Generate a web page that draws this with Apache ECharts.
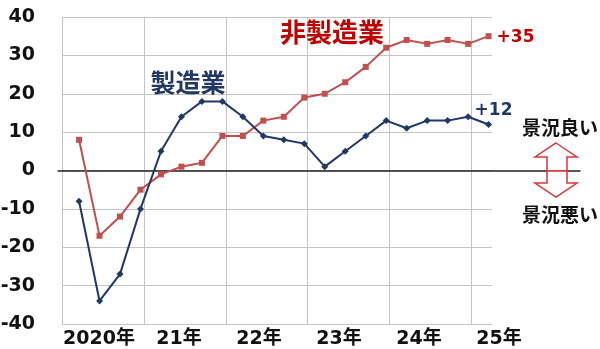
<!DOCTYPE html>
<html><head><meta charset="utf-8">
<script src="https://cdn.jsdelivr.net/npm/echarts@6/dist/echarts.min.js"></script>
<style>html,body{margin:0;padding:0;background:#fff}#c{width:600px;height:349px}</style>
</head><body><div id="c"></div>
<script>
// Quarterly survey months (Tankan, large enterprises)
const quarters = ['2020-03','2020-06','2020-09','2020-12','2021-03','2021-06','2021-09','2021-12',
  '2022-03','2022-06','2022-09','2022-12','2023-03','2023-06','2023-09','2023-12',
  '2024-03','2024-06','2024-09','2024-12','2025-03'];
const manufacturing    = [-8,-34,-27,-10, 5,14,18,18, 14, 9, 8, 7,  1, 5, 9,13, 11,13,13,14, 12];
const nonManufacturing = [ 8,-17,-12, -5,-1, 1, 2, 9,  9,13,14,19, 20,23,27,32, 34,33,34,33, 35];
const yearLabels = ['2020年','21年','22年','23年','24年','25年'];
const seriesNames = ['製造業','非製造業'];
const sideLabels = ['景況良い','景況悪い'];

const BLUE = '#1f3864', RED = '#c0504d', DARKRED = '#c00000', ARROW = '#d9343a';
const NUM_FONT = "'DejaVu Sans','Noto Sans CJK JP',sans-serif";
const CJK_FONT = "'Noto Sans CJK JP','DejaVu Sans',sans-serif";

function monthPos(q){ const [y,m] = q.split('-').map(Number); return (y-2020)*12 + m - 0.5; }
const blueData = quarters.map((q,i)=>[monthPos(q), manufacturing[i]]);
const redData  = quarters.map((q,i)=>[monthPos(q), nonManufacturing[i]]);

const chart = echarts.init(document.getElementById('c'), null, {renderer:'canvas'});
const gridTop = 17, gridH = 307;
chart.setOption({
  animation:false,
  backgroundColor:'#fff',
  grid:[
    {left:62, top:gridTop, width:430, height:gridH, containLabel:false, outerBoundsMode:'none'},
    {left:58, right:20, top:gridTop, height:gridH, containLabel:false, outerBoundsMode:'none'},
    {left:59, width:480, top:gridTop, height:gridH, containLabel:false, outerBoundsMode:'none'}
  ],
  xAxis:[
    {gridIndex:0, type:'value', min:0, max:63, interval:12,
      axisLine:{show:false}, axisTick:{show:false}, axisLabel:{show:false},
      splitLine:{show:true, showMinLine:true, showMaxLine:false, lineStyle:{color:'#c4c4c4', width:1}}},
    {gridIndex:1, type:'value', min:0, max:1, axisLine:{show:true, onZero:true, lineStyle:{color:'#222', width:1.5}},
      axisTick:{show:false}, axisLabel:{show:false}, splitLine:{show:false}, z:1},
    {gridIndex:2, type:'category', data:yearLabels, boundaryGap:true,
      axisLine:{show:false}, axisTick:{show:false}, splitLine:{show:false},
      axisLabel:{interval:0, margin:6, fontSize:19, fontWeight:'bold', color:'#111', fontFamily:NUM_FONT}}
  ],
  yAxis:[
    {gridIndex:0, type:'value', min:-40, max:40, interval:10,
      axisLine:{show:false}, axisTick:{show:false},
      axisLabel:{margin:27, fontSize:19, fontWeight:'bold', color:'#111', fontFamily:NUM_FONT},
      splitLine:{show:true, lineStyle:{color:'#c4c4c4', width:1}}},
    {gridIndex:1, type:'value', min:-40, max:40, show:false},
    {gridIndex:2, type:'value', min:-40, max:40, show:false}
  ],
  series:[
    {name:seriesNames[1], type:'line', xAxisIndex:0, yAxisIndex:0, data:redData, z:3,
      symbol:'rect', symbolSize:6, showAllSymbol:true,
      lineStyle:{color:RED, width:2}, itemStyle:{color:RED},
      endLabel:{show:true, formatter:p=>'+'+p.value[1], color:DARKRED, fontSize:17, fontWeight:'bold',
        fontFamily:NUM_FONT, distance:8, offset:[0,1]}},
    {name:seriesNames[0], type:'line', xAxisIndex:0, yAxisIndex:0, data:blueData, z:4,
      symbol:'diamond', symbolSize:7, showAllSymbol:true,
      lineStyle:{color:BLUE, width:2}, itemStyle:{color:BLUE},
      endLabel:{show:true, formatter:p=>'+'+p.value[1], color:BLUE, fontSize:17, fontWeight:'bold',
        fontFamily:NUM_FONT, distance:0, offset:[-14,-14]}}
  ],
  graphic:[
    {type:'text', z:10, style:{text:seriesNames[0], x:188, y:82, textAlign:'center', textVerticalAlign:'middle',
      fill:BLUE, font:"bold 25px "+CJK_FONT}},
    {type:'text', z:10, style:{text:seriesNames[1], x:332, y:32, textAlign:'center', textVerticalAlign:'middle',
      fill:DARKRED, font:"bold 26px "+CJK_FONT}},
    {type:'text', z:10, style:{text:sideLabels[0], x:560, y:128, textAlign:'center', textVerticalAlign:'middle',
      fill:'#111', font:"bold 19px "+CJK_FONT}},
    {type:'text', z:10, style:{text:sideLabels[1], x:560, y:215, textAlign:'center', textVerticalAlign:'middle',
      fill:'#111', font:"bold 19px "+CJK_FONT}},
    {type:'polygon', z:10, shape:{points:[[556,143],[577,157],[567,157],[567,171],[547,171],[547,157],[535,157]]},
      style:{fill:'#fff', stroke:ARROW, lineWidth:1.5}},
    {type:'polygon', z:10, shape:{points:[[547,171],[567,171],[567,183],[577,183],[556,197],[535,183],[547,183]]},
      style:{fill:'#fff', stroke:ARROW, lineWidth:1.5}}
  ]
});
</script></body></html>
